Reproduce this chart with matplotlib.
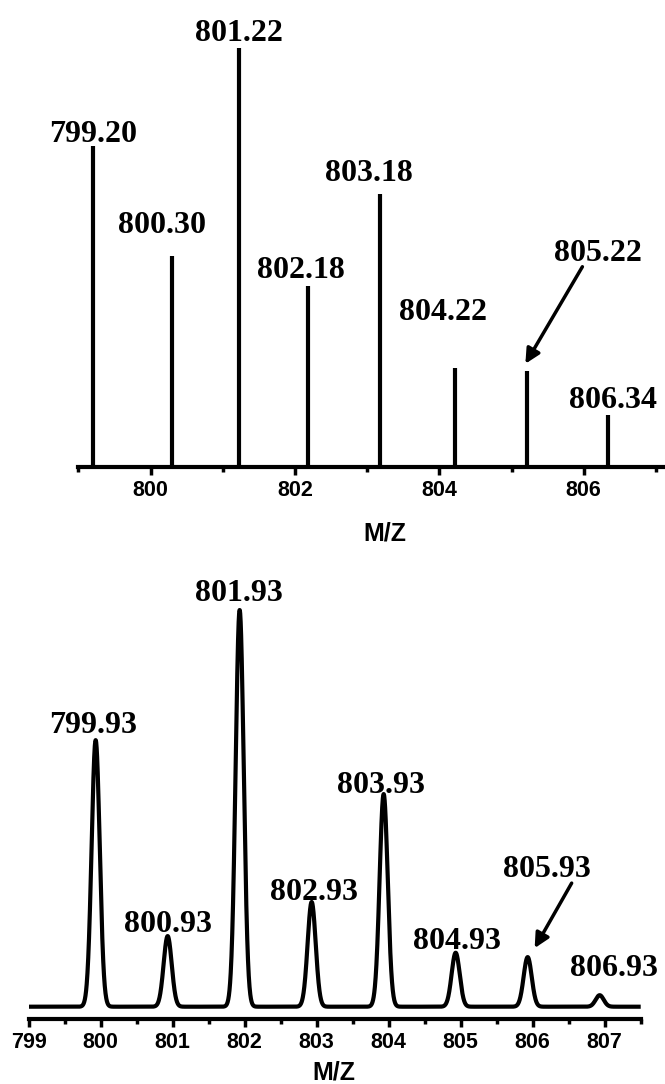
import matplotlib.pyplot as plt
import numpy as np
from matplotlib.ticker import MultipleLocator

# Stick spectrum (measured peaks), relative intensity
top_mz = [799.20, 800.30, 801.22, 802.18, 803.18, 804.22, 805.22, 806.34]
top_intensity = [76.6, 50.3, 100.0, 43.1, 65.0, 23.6, 22.9, 12.3]

# Simulated isotope pattern, relative intensity
bottom_mz = [799.93, 800.93, 801.93, 802.93, 803.93, 804.93, 805.93, 806.93]
bottom_intensity = [67.2, 17.8, 100.0, 26.4, 53.6, 13.6, 12.5, 2.9]

# label offsets (pixels) from each peak top
top_offsets = [(0, 4), (-10, 23), (0, 7), (-7, 8), (-11, 13), (-12, 48), (71, 110), (5, 7)]
bottom_offsets = [(-3, 7), (0, 4), (-1, 9), (2, 2), (-3, 1), (1, 4), (19, 80), (14, 19)]

LABEL_FONT = dict(family="Liberation Serif", fontweight="bold", fontsize=23)
TICK_FONT = dict(family="Liberation Sans", fontweight="bold", fontsize=15.5)

W, H = 665, 1084
fig = plt.figure(figsize=(W / 100, H / 100), dpi=100)


def style_axis(ax):
    for side in ("left", "right", "top"):
        ax.spines[side].set_visible(False)
    ax.spines["bottom"].set_linewidth(3)
    ax.set_yticks([])
    ax.tick_params(axis="x", which="major", direction="out", length=5.5, width=2.5, pad=4)
    ax.tick_params(axis="x", which="minor", direction="out", length=3.5, width=2.5)
    for lab in ax.get_xticklabels():
        lab.set_fontfamily(TICK_FONT["family"])
        lab.set_fontweight(TICK_FONT["fontweight"])
        lab.set_fontsize(TICK_FONT["fontsize"])


def label_peaks(ax, mz, inten, offsets, arrow_index, arrow_tail, arrow_tip):
    for i, (m, h) in enumerate(zip(mz, inten)):
        dx, dy = offsets[i]
        ax.annotate(f"{m:.2f}", xy=(m, h), xytext=(dx, dy), textcoords="offset pixels",
                    ha="center", va="baseline", annotation_clip=False, **LABEL_FONT)
    m, h = mz[arrow_index], inten[arrow_index]
    tip = ax.transData.transform((m, h)) + np.array(arrow_tip)
    tail = ax.transData.transform((m, h)) + np.array(arrow_tail)
    inv = ax.transData.inverted()
    ax.annotate("", xy=inv.transform(tip), xytext=inv.transform(tail),
                arrowprops=dict(arrowstyle="-|>", lw=2.5, color="black",
                                mutation_scale=22, shrinkA=0, shrinkB=0),
                annotation_clip=False)


# ---- top panel: stick spectrum ----
top_left, top_axis_y, top_px_per_mz, top_px_per_int = 78.3, 466.7, 72.2, 4.19
top_h = 456.7
ax1 = fig.add_axes([top_left / W, (H - top_axis_y) / H, (W - top_left) / W, top_h / H])
ax1.vlines(top_mz, 0, top_intensity, colors="black", linewidth=3)
ax1.set_xlim(799, 799 + (W - top_left) / top_px_per_mz)
ax1.set_ylim(0, top_h / top_px_per_int)
ax1.xaxis.set_major_locator(MultipleLocator(2))
ax1.xaxis.set_minor_locator(MultipleLocator(1))
ax1.set_xticks([800, 802, 804, 806])
style_axis(ax1)
ax1.set_xlabel("M/Z", family="Liberation Sans", fontweight="bold", fontsize=18, va="baseline")
ax1.xaxis.set_label_coords((385 - top_left) / (W - top_left), -(540 - top_axis_y) / top_h)
fig.canvas.draw()
label_peaks(ax1, top_mz, top_intensity, top_offsets, 6, (55, 104), (-2, 7))

# ---- bottom panel: simulated profile ----
bot_left, bot_axis_y, bot_px_per_mz, bot_px_per_int = 28.7, 1019.3, 72.0, 3.967
bot_h = 459.3
base_gap = 12.6
ax2 = fig.add_axes([bot_left / W, (H - bot_axis_y) / H, 8.5 * bot_px_per_mz / W, bot_h / H])
x = np.linspace(799, 807.5, 4000)
sigma = 0.056
y = np.zeros_like(x)
for m, h in zip(bottom_mz, bottom_intensity):
    y += h * np.exp(-0.5 * ((x - m) / sigma) ** 2)
ax2.plot(x, y, color="black", linewidth=3, solid_capstyle="butt", solid_joinstyle="round")
ymin = -base_gap / bot_px_per_int
ax2.set_xlim(799, 807.5)
ax2.set_ylim(ymin, ymin + bot_h / bot_px_per_int)
ax2.xaxis.set_major_locator(MultipleLocator(1))
ax2.xaxis.set_minor_locator(MultipleLocator(0.5))
style_axis(ax2)
ax2.set_xlabel("M/Z", family="Liberation Sans", fontweight="bold", fontsize=18, va="baseline")
ax2.xaxis.set_label_coords((334 - bot_left) / (8.5 * bot_px_per_mz), -(1079 - bot_axis_y) / bot_h)
fig.canvas.draw()
label_peaks(ax2, bottom_mz, bottom_intensity, bottom_offsets, 6, (44, 74), (7, 9))

fig.savefig("out.png", dpi=100)
